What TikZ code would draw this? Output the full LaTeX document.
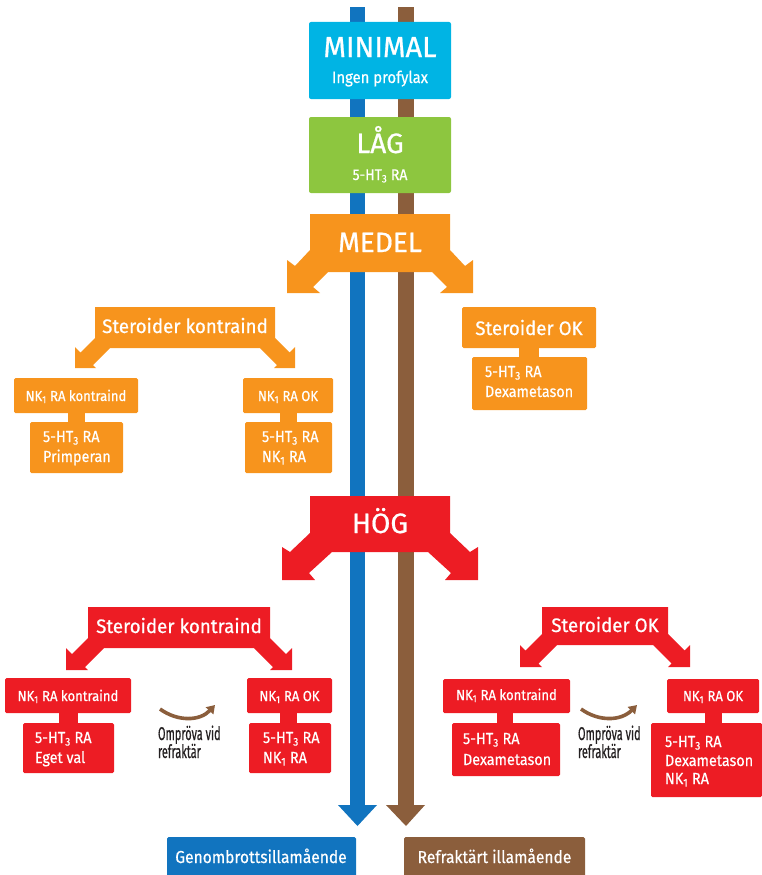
\documentclass[tikz,border=0pt]{standalone}
\usepackage{fontspec}
\setmainfont{Fira Sans}
\newfontfamily\bigfont{Fira Sans}[FakeBold=0.7]
\newfontfamily\midfont{Fira Sans}[FakeStretch=0.96,FakeBold=0.6]
\newfontfamily\smfont{Fira Sans}[FakeStretch=0.9,FakeBold=0.5]
\newfontfamily\condfont{Fira Sans}[FakeStretch=0.59,FakeBold=0.5]
\usetikzlibrary{arrows.meta}
\definecolor{cyanbox}{RGB}{0,180,228}
\definecolor{greenbox}{RGB}{141,198,63}
\definecolor{orng}{RGB}{247,148,29}
\definecolor{redbox}{RGB}{237,28,36}
\definecolor{blueline}{RGB}{17,116,191}
\definecolor{brownline}{RGB}{139,94,60}
\definecolor{darktxt}{RGB}{35,31,32}
\newcommand\myfs[1]{\fontsize{#1}{#1}\selectfont}
\newcommand\sbs[1]{\textsubscript{#1}}
\tikzset{
  txt/.style={inner sep=0pt, outer sep=0pt, text=white},
  obox/.style={fill=orng, rounded corners=1.5pt},
  rbox/.style={fill=redbox, rounded corners=1.5pt},
  cbox/.style={fill=cyanbox, rounded corners=2pt},
  gbox/.style={fill=greenbox, rounded corners=2pt},
  orshape/.style={fill=orng},
  rdshape/.style={fill=redbox},
  curvedarrow/.style={draw=brownline, line width=3.6pt, -{Triangle[length=8pt,width=10pt]}},
  small/.style={txt, font=\smfont\myfs{14.5}},
  lower/.style={txt, font=\smfont\myfs{16}},
  mid/.style={txt, font=\midfont\myfs{19.5}},
  bottomlbl/.style={txt, font=\smfont\myfs{17.3}},
  big/.style={txt, font=\bigfont\myfs{28}},
  note/.style={inner sep=0pt, outer sep=0pt, text=darktxt, font=\condfont\myfs{18.5}}
}
\begin{document}
\begin{tikzpicture}[x=1pt,y=-1pt]
\useasboundingbox (0,0) rectangle (762,875);
% vertical lines
\fill[blueline] (350,7) rectangle (365,806);
\fill[blueline] (338,805) -- (377,805) -- (357.5,826) -- cycle;
\fill[brownline] (398,7) rectangle (414,806);
\fill[brownline] (386,805) -- (425,805) -- (406,826) -- cycle;
% bottom boxes
\fill[blueline, rounded corners=1.5pt] (167,837) rectangle (356,880);
\fill[brownline, rounded corners=1.5pt] (404,837) rectangle (585,880);
\node[bottomlbl, anchor=base] (gen) at (261,863) {Genombrottsillamående};
\node[bottomlbl, anchor=base] (ref) at (494.5,863) {Refraktärt illamående};
% MINIMAL
\fill[cbox] (309,22) rectangle (451,99);
\node[big, font=\bigfont\myfs{29}, anchor=base] (minimal) at (380,57) {MINIMAL};
\node[txt, font=\smfont\myfs{16.5}, anchor=base] (ingen) at (380,83) {Ingen profylax};
% LAG
\fill[gbox] (309,117) rectangle (451,193);
\node[big, anchor=base] (lag) at (380,153) {LÅG};
\node[txt, font=\smfont\myfs{15.5}, anchor=base] (lagsub) at (380,180) {5-HT\sbs{3} RA};
% MEDEL
\fill[orshape] (310,214) -- (450,214) -- (450,250) -- (465,266) -- (473,260) -- (473,293)
  -- (440,293) -- (447,287) -- (432,272) -- (328,272) -- (313,287) -- (320,293)
  -- (287,293) -- (287,260) -- (295,266) -- (310,250) -- cycle;
\node[big, anchor=base] (medel) at (380,252) {MEDEL};
% orange steroider kontraind
\fill[orshape] (95,307) -- (275,307) -- (275,338) -- (289.5,352.5) -- (295,347) -- (295,368)
  -- (274,368) -- (277,365) -- (260,348) -- (110,348) -- (93,365) -- (96,368)
  -- (75,368) -- (75,347) -- (80.5,352.5) -- (95,338) -- cycle;
\node[mid, anchor=base] (osk) at (185,333) {Steroider kontraind};
% orange left group
\fill[obox] (14,378) rectangle (138,413);
\fill[orng] (68,411) rectangle (85,424);
\fill[obox] (30,422) rectangle (123,473);
\node[small, anchor=base] (onkk) at (76,401) {NK\sbs{1} RA kontraind};
\node[lower, anchor=base west] (oprima) at (43,442) {5-HT\sbs{3} RA};
\node[lower, anchor=base west] (oprimb) at (43,462) {Primperan};
% orange right group
\fill[obox] (243,378) rectangle (333,413);
\fill[orng] (280,411) rectangle (297,424);
\fill[obox] (245,422) rectangle (332,473);
\node[small, anchor=base] (onkok) at (288,401) {NK\sbs{1} RA OK};
\node[lower, anchor=base west] (onka) at (262,442) {5-HT\sbs{3} RA};
\node[lower, anchor=base west] (onkb) at (262,462) {NK\sbs{1} RA};
% orange steroider OK
\fill[obox] (462,307) rectangle (596,348);
\fill[orng] (519,346) rectangle (539,359);
\fill[obox] (472,357) rectangle (587,410);
\node[mid, anchor=base] (osok) at (529,335) {Steroider OK};
\node[lower, anchor=base west] (odexa) at (485,377) {5-HT\sbs{3} RA};
\node[lower, anchor=base west] (odexb) at (485,397) {Dexametason};
% HOG
\fill[rdshape] (310,496) -- (450,496) -- (450,533) -- (470,552) -- (478,547) -- (478,580)
  -- (445,580) -- (451,573) -- (428,552) -- (332,552) -- (309,573) -- (315,580)
  -- (282,580) -- (282,547) -- (290,552) -- (310,533) -- cycle;
\node[big, anchor=base] (hog) at (380,533) {HÖG};
% red steroider kontraind
\fill[rdshape] (88,607) -- (270,607) -- (270,638) -- (286,654) -- (292,648) -- (292,670)
  -- (270,670) -- (273,667) -- (254,648) -- (104,648) -- (85,667) -- (88,670)
  -- (66,670) -- (66,648) -- (72,654) -- (88,638) -- cycle;
\node[mid, anchor=base] (rsk) at (179,633) {Steroider kontraind};
% red left group
\fill[rbox] (5,678) rectangle (131,713);
\fill[redbox] (59,711) rectangle (78,725);
\fill[rbox] (23,723) rectangle (114,773);
\node[small, anchor=base] (rnkk) at (68,701) {NK\sbs{1} RA kontraind};
\node[lower, anchor=base west] (rega) at (35,743) {5-HT\sbs{3} RA};
\node[lower, anchor=base west] (regb) at (35,763) {Eget val};
\fill[rbox] (247,678) rectangle (332,713);
\fill[redbox] (280,711) rectangle (297,725);
\fill[rbox] (249,723) rectangle (331,773);
\node[small, anchor=base] (rnkok) at (289.5,701) {NK\sbs{1} RA OK};
\node[lower, anchor=base west] (rnka) at (263,743) {5-HT\sbs{3} RA};
\node[lower, anchor=base west] (rnkb) at (263,763) {NK\sbs{1} RA};
% curved arrow left + note
\coordinate (la) at (160,709);
\coordinate (lb) at (215,705);
\draw[curvedarrow] (la) .. controls (178,722) and (200,721) .. (lb);
\node[note, anchor=base west] (omla) at (158,740) {Ompröva vid};
\node[note, anchor=base west] (omlb) at (158,758) {refraktär};
% red steroider OK
\fill[rdshape] (542,607) -- (668,607) -- (668,634) -- (684.5,650.5) -- (690,645) -- (690,667)
  -- (668,667) -- (671.5,663.5) -- (653,645) -- (557,645) -- (538.5,663.5) -- (542,667)
  -- (520,667) -- (520,645) -- (525.5,650.5) -- (542,634) -- cycle;
\node[mid, anchor=base] (rsok) at (605,632) {Steroider OK};
% red right group
\fill[rbox] (443,679) rectangle (570,713);
\fill[redbox] (497,711) rectangle (513,725);
\fill[rbox] (452,723) rectangle (560,776);
\node[small, anchor=base] (rnkk2) at (506.5,700) {NK\sbs{1} RA kontraind};
\node[lower, anchor=base west] (rdxa) at (463,744) {5-HT\sbs{3} RA};
\node[lower, anchor=base west] (rdxb) at (463,765) {Dexametason};
\fill[rbox] (667,679) rectangle (759,713);
\fill[redbox] (705,711) rectangle (722,725);
\fill[rbox] (651,723) rectangle (762,797);
\node[small, anchor=base] (rnkok2) at (713,701) {NK\sbs{1} RA OK};
\node[lower, anchor=base west] (rdx2a) at (665,747) {5-HT\sbs{3} RA};
\node[lower, anchor=base west] (rdx2b) at (665,766) {Dexametason};
\node[lower, anchor=base west] (rdx2c) at (665,784) {NK\sbs{1} RA};
% curved arrow right + note
\coordinate (ra) at (581,709);
\coordinate (rb) at (637,705);
\draw[curvedarrow] (ra) .. controls (599,722) and (621,721) .. (rb);
\node[note, anchor=base west] (omra) at (578,740) {Ompröva vid};
\node[note, anchor=base west] (omrb) at (578,758) {refraktär};
\end{tikzpicture}
\end{document}
